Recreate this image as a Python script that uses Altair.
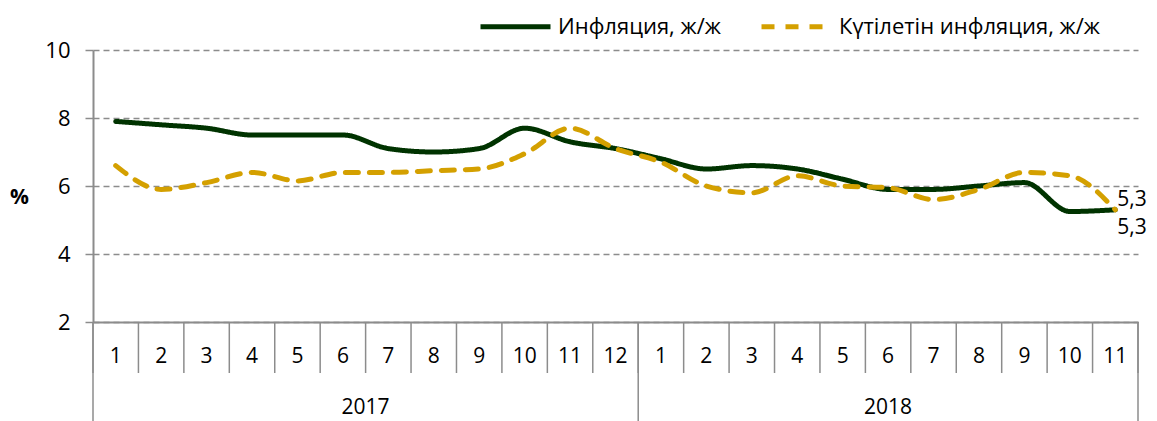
import altair as alt
import pandas as pd

months = ["1", "2", "3", "4", "5", "6", "7", "8", "9", "10", "11", "12",
          "1", "2", "3", "4", "5", "6", "7", "8", "9", "10", "11"]
years = ["2017"] * 12 + ["2018"] * 11
series_names = ["Инфляция, ж/ж", "Күтілетін инфляция, ж/ж"]
inflation = [7.9, 7.8, 7.7, 7.5, 7.5, 7.5, 7.1, 7.0, 7.1, 7.7, 7.3, 7.1,
             6.8, 6.5, 6.6, 6.5, 6.2, 5.9, 5.9, 6.0, 6.1, 5.25, 5.3]
expected = [6.6, 5.9, 6.1, 6.4, 6.15, 6.4, 6.4, 6.45, 6.5, 6.95, 7.7, 7.1,
            6.7, 6.0, 5.8, 6.3, 6.0, 5.95, 5.6, 5.9, 6.4, 6.3, 5.3]
y_ticks = [2, 4, 6, 8, 10]

FONT = "Open Sans"
GRAY = "#8c8c8c"
n = len(months)

rows = []
for i in range(n):
    rows.append({"idx": i, "series": series_names[0], "value": inflation[i]})
    rows.append({"idx": i, "series": series_names[1], "value": expected[i]})
df = pd.DataFrame(rows)

cats = pd.DataFrame({"idx": list(range(n)), "month": months, "year": years})

seps = []
for i in range(n + 1):
    pos = i - 0.5
    long_sep = (i == 0) or (i == n) or (years[i] != years[i - 1])
    seps.append({"idx": pos, "long": long_sep})
sep_df = pd.DataFrame(seps)

year_rows = []
for y in dict.fromkeys(years):
    idxs = [i for i, yy in enumerate(years) if yy == y]
    year_rows.append({"idx": (idxs[0] + idxs[-1]) / 2, "year": y})
year_df = pd.DataFrame(year_rows)

xscale = alt.Scale(domain=[-0.5, n - 0.5], nice=False, zero=False)
yscale = alt.Scale(domain=[2, 10], nice=False, zero=False)

x_axis = alt.Axis(labels=False, ticks=False, grid=False, title=None,
                  domainColor=GRAY, domainWidth=2)
y_axis = alt.Axis(values=y_ticks, grid=True, gridDash=[6, 4], gridColor=GRAY,
                  gridWidth=1.6, tickColor=GRAY, tickSize=8, tickWidth=1.5,
                  domainColor=GRAY, domainWidth=2, labelFontSize=22,
                  labelFont=FONT, labelColor="black", labelPadding=15,
                  title="%", titleAngle=0, titleFontWeight="bold",
                  titleFontSize=21, titleFont=FONT, titleX=-74, titleY=147,
                  titleAlign="center", titleBaseline="middle", titleColor="black")

X = alt.X("idx:Q", scale=xscale, axis=x_axis)
Y = alt.Y("value:Q", scale=yscale, axis=y_axis)

leg = alt.Legend(orient="none", legendX=385, legendY=-61,
                 direction="horizontal", title=None,
                 symbolType="stroke", symbolSize=4900,
                 symbolStrokeWidth=5, labelFontSize=22,
                 labelFont=FONT, labelOffset=5, labelColor="black",
                 columnPadding=30, labelLimit=400)

lines = alt.Chart(df).mark_line(strokeWidth=5, interpolate="monotone", strokeCap="round").encode(
    x=X, y=Y,
    color=alt.Color("series:N",
                    scale=alt.Scale(domain=series_names, range=["#003300", "#D4A000"]),
                    legend=leg),
    strokeDash=alt.StrokeDash("series:N",
                              scale=alt.Scale(domain=series_names, range=[[1, 0], [13, 11]]),
                              legend=leg),
    order="idx:Q",
)

last = df[df["idx"] == n - 1]
end_top = alt.Chart(last[last["series"] == series_names[1]]).transform_calculate(
    lab="replace(format(datum.value, '.1f'), '.', ',')"
).mark_text(align="left", baseline="middle", dx=2, dy=-10, fontSize=21, font=FONT, color="black").encode(
    x=X, y=Y, text="lab:N",
)
end_bot = alt.Chart(last[last["series"] == series_names[0]]).transform_calculate(
    lab="replace(format(datum.value, '.1f'), '.', ',')"
).mark_text(align="left", baseline="middle", dx=2, dy=18, fontSize=21, font=FONT, color="black").encode(
    x=X, y=Y, text="lab:N",
)

short_seps = alt.Chart(sep_df).mark_rule(color=GRAY, strokeWidth=1.5).encode(
    x=X, y=alt.value(272), y2=alt.value(323),
)
long_seps = alt.Chart(sep_df[sep_df["long"]]).mark_rule(color=GRAY, strokeWidth=1.5).encode(
    x=X, y=alt.value(272), y2=alt.value(430),
)
month_labels = alt.Chart(cats).mark_text(fontSize=21, font=FONT, color="black", baseline="middle").encode(
    x=X, y=alt.value(307), text="month:N",
)
year_labels = alt.Chart(year_df).mark_text(fontSize=21, font=FONT, color="black", baseline="middle").encode(
    x=X, y=alt.value(358), text="year:N",
)

chart = alt.layer(
    lines, end_top, end_bot, short_seps, long_seps, month_labels, year_labels
).properties(
    width=1045, height=272,
    autosize=alt.AutoSizeParams(type="none"),
    padding={"left": 85, "top": 42, "right": 11, "bottom": 100},
).configure(font=FONT).configure_view(stroke=None)

chart.save("out.html", embed_options={"renderer": "svg", "actions": False})
